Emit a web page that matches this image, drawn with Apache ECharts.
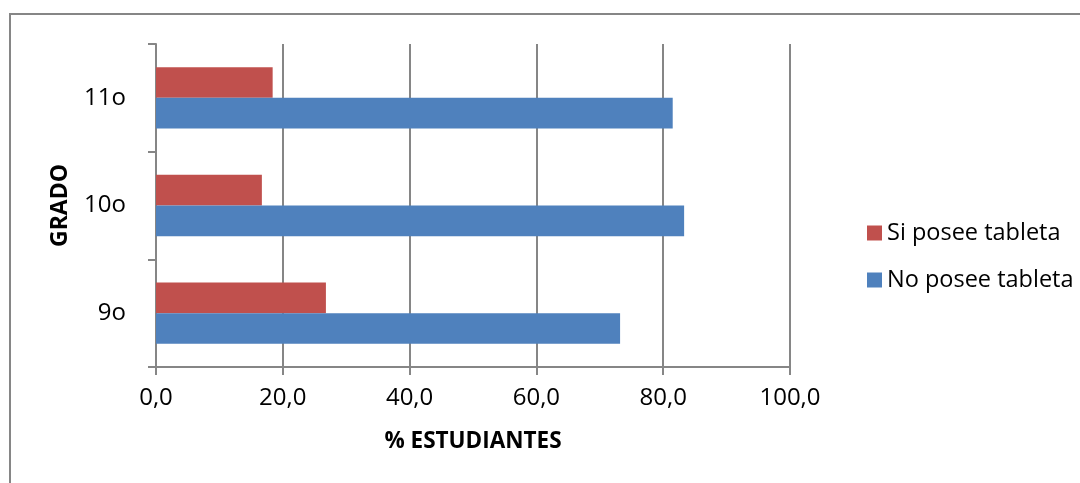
<!DOCTYPE html>
<html>
<head>
<meta charset="utf-8">
<script src="https://cdn.jsdelivr.net/npm/echarts@6/dist/echarts.min.js"></script>
<style>
  html, body { margin: 0; padding: 0; background: #fff; }
  #chart { width: 1080px; height: 483px; }
</style>
</head>
<body>
<div id="chart"></div>
<script>
// grades, bottom to top like the original
const grades = ['9o', '10o', '11o']
const noPosee = [73.2, 83.3, 81.5]
const siPosee = [26.8, 16.7, 18.4]
const xTicks = { min: 0, max: 100, interval: 20 }

const font = '"Open Sans", Lato, sans-serif'
const gray = '#868686'

const chart = echarts.init(document.getElementById('chart'), null, { renderer: 'canvas' })

chart.setOption({
  backgroundColor: '#fff',
  animation: false,
  // chart frame, cut off on the right and bottom like the source
  graphic: [
    {
      type: 'rect',
      shape: { x: 10, y: 14, width: 1100, height: 500 },
      style: { fill: 'none', stroke: gray, lineWidth: 2 },
      silent: true,
    },
  ],
  grid: { left: 156, right: 290, top: 44, bottom: 116 },
  legend: {
    orient: 'vertical',
    left: 862,
    top: 216,
    itemWidth: 15,
    itemHeight: 15,
    itemGap: 23,
    icon: 'rect',
    textStyle: { fontFamily: font, fontSize: 23.5, color: '#000' },
    data: ['Si posee tableta', 'No posee tableta'],
  },
  xAxis: {
    type: 'value',
    min: xTicks.min,
    max: xTicks.max,
    interval: xTicks.interval,
    name: '% ESTUDIANTES',
    nameLocation: 'middle',
    nameGap: 63,
    nameTextStyle: { fontFamily: font, fontSize: 22.5, fontWeight: 'bold', color: '#000' },
    axisLine: { show: true, lineStyle: { color: gray, width: 2 } },
    axisTick: { show: true, length: 8, lineStyle: { color: gray, width: 2 } },
    axisLabel: {
      fontFamily: font,
      fontSize: 24,
      color: '#000',
      margin: 19,
      formatter: (v) => v.toFixed(1).replace('.', ','),
    },
    splitLine: { show: true, lineStyle: { color: gray, width: 2 } },
  },
  yAxis: {
    type: 'category',
    data: grades,
    name: 'GRADO',
    nameLocation: 'middle',
    nameGap: 84,
    nameRotate: 90,
    nameTextStyle: { fontFamily: font, fontSize: 23, fontWeight: 'bold', color: '#000' },
    axisLine: { show: true, lineStyle: { color: gray, width: 2 } },
    axisTick: { show: true, length: 8, lineStyle: { color: gray, width: 2 } },
    axisLabel: { fontFamily: font, fontSize: 24, color: '#000', margin: 30 },
  },
  series: [
    {
      name: 'Si posee tableta',
      type: 'bar',
      data: siPosee,
      barGap: '0%',
      barCategoryGap: '43%',
      itemStyle: { color: '#C0504D' },
    },
    {
      name: 'No posee tableta',
      type: 'bar',
      data: noPosee,
      barGap: '0%',
      barCategoryGap: '43%',
      itemStyle: { color: '#4F81BD' },
    },
  ],
})
</script>
</body>
</html>
